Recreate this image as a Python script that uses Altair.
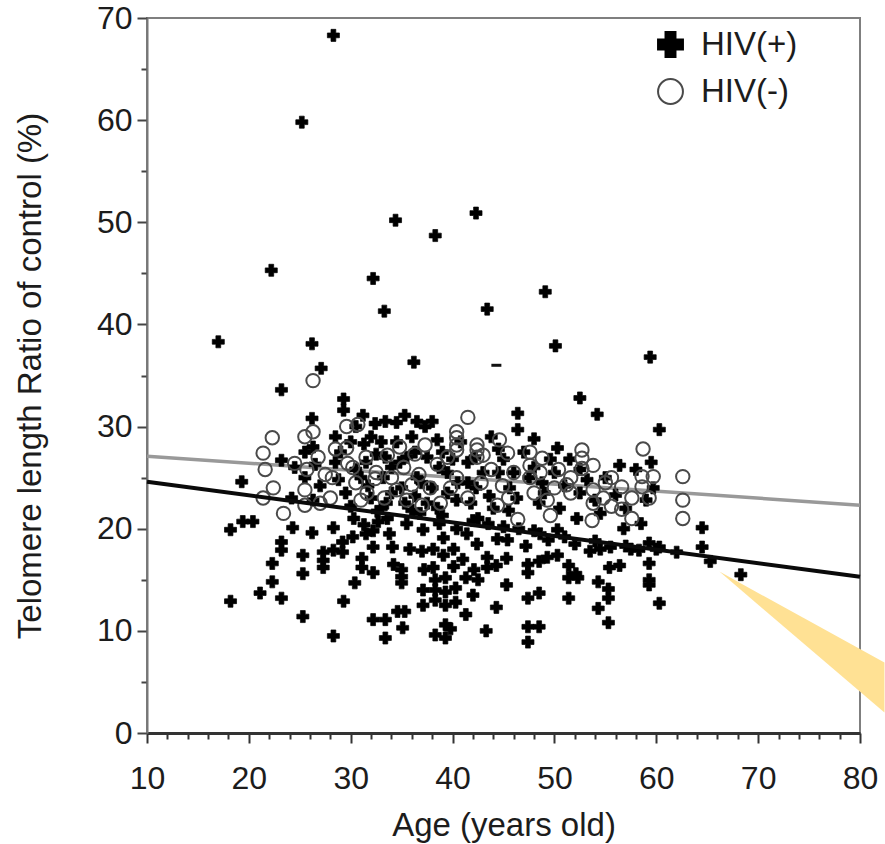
import altair as alt
import pandas as pd

# ---------------- data ----------------
# HIV(+) : age (years), telomere length ratio of control (%)
pos_age = [
    28.3, 25.2, 22.2, 17.0, 32.2, 34.4, 38.3, 42.3, 33.3, 43.4, 49.1, 50.1, 36.2, 26.2, 27.1, 59.4, 52.5, 54.2, 60.3, 23.2,
    29.3, 29.3, 31.2, 32.4, 33.4, 34.5, 26.2, 35.3, 37.3, 38.5, 46.4, 46.4, 50.3, 56.4,
    18.2, 19.4, 20.4, 19.3, 22.3, 21.1, 18.2, 22.3, 23.2, 23.2, 23.2, 24.3, 26.2, 25.3, 25.3, 25.3, 23.2, 24.5, 25.5, 25.5,
    26.3, 26.5, 27.0, 27.3, 27.3, 27.3, 26.3, 24.2, 28.3, 28.3, 28.3, 29.2, 29.2, 29.3, 30.2, 30.4, 28.5, 28.5, 28.8, 29.5,
    30.0, 30.3, 30.5, 31.1, 31.1, 31.3, 31.5, 31.7, 31.3, 31.5, 32.2, 32.2, 32.2, 32.2, 32.5, 32.0, 32.6, 32.7, 33.4, 33.4,
    33.4, 33.2, 33.5, 33.6, 33.8, 34.1, 34.2, 34.6, 35.3, 35.1, 35.0, 35.0, 35.0, 34.5, 34.8, 35.0, 35.3, 35.5, 35.8, 36.0,
    36.3, 36.5, 36.3, 36.8, 37.1, 37.5, 37.0, 37.0, 37.2, 38.1, 38.1, 38.3, 38.3, 38.3, 38.3, 38.5, 38.7, 38.7, 39.1, 39.1,
    39.3, 39.3, 39.3, 39.3, 39.3, 39.5, 39.5, 39.8, 40.1, 40.1, 40.3, 40.3, 40.4, 40.4, 40.5, 41.0, 41.3, 41.3, 41.4, 41.5,
    41.8, 42.0, 42.1, 42.3, 42.5, 42.4, 42.5, 43.3, 43.4, 43.4, 43.6, 43.5, 44.3, 44.3, 44.4, 44.5, 44.5, 45.3, 45.3, 45.4,
    45.5, 45.6, 46.3, 46.5, 47.4, 47.4, 47.4, 47.4, 47.4, 47.2, 47.5, 48.5, 48.5, 48.5, 48.6, 48.5, 48.8, 49.4, 49.6, 50.3,
    50.3, 50.5, 51.0, 51.4, 51.4, 51.4, 52.1, 52.0, 52.2, 52.5, 53.5, 54.3, 54.3, 54.5, 54.5, 55.3, 55.3, 55.3, 55.4, 56.4,
    55.5, 56.0, 56.8, 57.5, 58.3, 58.5, 59.3, 59.3, 59.3, 59.3, 59.0, 60.3, 60.3, 59.7, 64.5, 64.5, 65.3, 68.3,
    29.0, 30.0, 30.5, 31.0, 32.0, 33.0, 34.0, 34.0, 35.5, 36.5, 37.5, 38.0, 38.0, 39.0, 40.0, 40.8, 41.5, 42.2, 43.0, 43.8,
    44.0, 45.0, 46.0, 47.0, 48.0, 48.0, 49.0, 50.0, 51.5, 52.5, 53.2, 54.0, 55.0, 57.0, 58.0, 59.5,
    33.0, 36.0, 39.0, 42.0, 45.0, 48.0, 51.0, 54.0, 57.0, 60.0, 62.0,
    52.3, 49.3, 37.1, 37.1,
]
pos_val = [
    68.3, 59.8, 45.3, 38.3, 44.5, 50.2, 48.7, 50.9, 41.3, 41.5, 43.2, 37.9, 36.3, 38.1, 35.7, 36.8, 32.8, 31.2, 29.7, 33.6,
    32.7, 31.6, 31.1, 30.3, 30.5, 30.4, 30.8, 31.1, 30.0, 28.7, 31.3, 29.7, 27.9, 26.2,
    19.9, 20.7, 20.7, 24.6, 16.6, 13.7, 12.9, 14.8, 13.2, 18.7, 17.9, 20.1, 19.6, 17.4, 15.6, 11.4, 26.7, 26.0, 25.0, 27.5,
    28.0, 26.3, 24.2, 17.7, 16.9, 16.2, 22.8, 23.0, 20.1, 17.9, 9.5, 18.7, 17.7, 12.9, 19.2, 14.7, 29.0, 26.5, 24.8, 23.5,
    22.2, 21.0, 25.8, 17.1, 16.2, 28.3, 26.5, 24.2, 20.4, 19.5, 15.7, 11.1, 18.2, 19.8, 27.3, 23.0, 21.7, 20.7, 11.1, 9.3,
    27.0, 25.0, 22.5, 21.0, 19.5, 18.2, 16.5, 11.9, 11.9, 10.3, 16.0, 15.3, 14.7, 28.5, 26.5, 24.0, 22.5, 20.5, 18.0, 29.0,
    27.5, 25.0, 23.2, 21.5, 19.9, 27.0, 24.5, 17.8, 16.0, 18.0, 16.2, 9.6, 13.0, 14.0, 15.0, 22.0, 20.5, 26.0, 19.1, 17.4,
    9.3, 10.6, 12.5, 13.8, 15.2, 23.5, 25.5, 10.2, 18.0, 16.3, 12.8, 14.2, 20.0, 22.8, 24.5, 17.0, 11.6, 15.2, 19.5, 26.5,
    22.5, 13.5, 16.0, 24.0, 21.0, 18.5, 15.0, 10.0, 16.2, 17.2, 23.2, 20.5, 12.3, 16.4, 19.0, 25.5, 27.8, 14.5, 17.1, 18.9,
    21.8, 24.0, 23.0, 20.0, 8.9, 10.4, 13.2, 15.7, 16.5, 18.3, 25.0, 10.4, 13.7, 16.8, 19.5, 22.5, 24.5, 18.9, 26.8, 17.4,
    19.9, 22.0, 24.2, 13.2, 15.2, 16.4, 15.6, 18.5, 21.0, 25.8, 17.8, 12.2, 14.8, 18.0, 21.5, 10.8, 13.2, 14.1, 16.2, 16.4,
    18.2, 23.3, 20.0, 18.0, 17.9, 20.5, 15.0, 14.5, 16.6, 18.6, 22.8, 12.7, 18.2, 24.0, 20.1, 18.2, 16.8, 15.5,
    27.5, 28.5, 30.0, 25.0, 29.0, 28.5, 26.0, 23.5, 27.0, 30.5, 22.5, 30.5, 24.0, 27.5, 26.8, 28.5, 24.5, 27.0, 25.5, 29.0,
    22.0, 26.8, 25.5, 27.5, 26.0, 28.8, 23.5, 25.5, 26.8, 23.5, 24.8, 22.8, 25.0, 22.0, 25.8, 26.5,
    22.0, 21.8, 21.3, 20.8, 20.2, 19.8, 19.2, 18.8, 18.3, 18.0, 17.7,
    15.2, 17.2, 14.0, 12.5,
]

# HIV(-)
neg_age = [
    21.4, 22.3, 21.6, 22.4, 21.4, 23.4, 24.5, 25.5, 26.3, 25.5, 25.5, 25.7, 26.3, 26.8, 27.5, 28.0, 28.5, 29.6, 30.7, 29.6,
    29.7, 30.5, 31.0, 31.5, 32.5, 33.6, 32.4, 31.6, 33.3, 34.0, 34.8, 35.2, 35.5, 36.3, 36.7, 37.3, 37.8, 38.5, 38.8, 39.5,
    40.4, 40.4, 40.4, 40.4, 41.5, 40.4, 42.4, 42.4, 42.4, 41.5, 42.8, 44.6, 45.4, 44.4, 43.8, 44.9, 46.4, 46.0, 47.6, 48.8,
    47.6, 48.6, 47.6, 49.3, 49.6, 48.0, 50.4, 51.2, 52.7, 52.7, 52.7, 53.8, 51.6, 51.6, 53.8, 53.8, 54.8, 55.6, 55.6, 56.6,
    56.6, 57.6, 57.6, 58.7, 58.6, 59.7, 58.6, 59.3, 53.7, 62.6, 62.6, 62.6, 43.0, 39.8, 36.0, 34.5, 30.2, 28.2, 27.0, 37.0,
    45.5, 50.0, 55.0,
]
neg_val = [
    27.4, 28.9, 25.8, 24.0, 23.0, 21.5, 26.4, 29.0, 29.5, 23.8, 22.3, 25.8, 34.5, 27.0, 25.3, 23.0, 27.8, 30.0, 30.2, 27.9,
    26.4, 24.5, 22.8, 27.0, 25.5, 27.2, 24.9, 23.5, 23.0, 25.0, 28.0, 26.0, 22.8, 27.3, 25.3, 28.2, 24.0, 26.3, 22.5, 27.0,
    29.5, 28.9, 28.2, 27.7, 30.9, 25.0, 28.2, 27.7, 27.0, 23.0, 24.5, 28.7, 27.4, 22.3, 25.8, 24.2, 20.9, 25.5, 27.5, 26.9,
    26.2, 25.5, 25.0, 22.8, 21.3, 23.5, 25.8, 24.3, 27.7, 26.9, 25.9, 26.2, 25.0, 23.5, 23.8, 22.5, 23.0, 25.0, 22.2, 24.1,
    21.9, 23.0, 21.0, 27.8, 25.1, 25.1, 24.1, 23.0, 20.8, 25.1, 22.8, 21.0, 27.2, 24.0, 24.3, 23.8, 26.0, 25.0, 22.5, 22.3,
    23.0, 24.0, 24.5,
]

# the lone dash-shaped mark
dash_age = [44.3]
dash_val = [36.0]

# regression lines (end points)
fit_age = [10, 80]
fit_pos = [24.6, 15.3]
fit_neg = [27.1, 22.3]

# yellow pointer wedge (annotation)
wedge_age = [66.2, 82.4]
wedge_top = [15.8, 6.9]
wedge_bottom = [15.8, 2.0]

x_ticks = list(range(10, 81, 2))
y_ticks = list(range(0, 71, 5))
groups = ["HIV(+)", "HIV(-)"]

# ---------------- tables ----------------
pos_df = pd.DataFrame({"age": pos_age, "val": pos_val, "group": groups[0]})
neg_df = pd.DataFrame({"age": neg_age, "val": neg_val, "group": groups[1]})
dash_df = pd.DataFrame({"age": dash_age, "val": dash_val})
pos_fit_df = pd.DataFrame({"age": fit_age, "val": fit_pos})
neg_fit_df = pd.DataFrame({"age": fit_age, "val": fit_neg})
wedge_df = pd.DataFrame({"age": wedge_age, "val": wedge_top, "val2": wedge_bottom})

FONT = "Liberation Sans"
TXT = "#1c1c1c"

x_major = "datum.value % 10 === 0"
y_major = "datum.value % 10 === 0"

xaxis = alt.Axis(
    values=x_ticks,
    labelExpr=f"{x_major} ? datum.label : ''",
    tickSize={"condition": {"test": x_major, "value": 10}, "value": 6},
    tickWidth=2, tickColor="#333333",
    domainColor="#333333", domainWidth=3,
    labelPadding=20, labelFlush=False, labelOverlap=False,
    grid=False,
    titleX=356.5, titleY=102, titleAlign="center", titleBaseline="alphabetic",
)
yaxis = alt.Axis(
    values=y_ticks,
    labelExpr=f"{y_major} ? datum.label : ''",
    tickSize={"condition": {"test": y_major, "value": 10}, "value": 6},
    tickWidth=2, tickColor="#444444",
    domainColor="#777777", domainWidth=2,
    labelPadding=5, labelFlush=False, labelOverlap=False,
    grid=False,
    titleX=-117, titleY=357.5, titleAlign="center", titleBaseline="middle", titleAngle=270,
)

xscale = alt.Scale(domain=[10, 80], nice=False, zero=False)
yscale = alt.Scale(domain=[0, 70], nice=False, zero=False)

x_enc = alt.X("age:Q", scale=xscale, axis=xaxis, title="Age (years old)")
y_enc = alt.Y("val:Q", scale=yscale, axis=yaxis, title="Telomere length Ratio of control (%)")

leg = alt.Legend(
    title=None, orient="none", legendX=507, legendY=10,
    symbolSize=620, symbolStrokeWidth=2,
    labelFont=FONT, labelFontSize=33, labelColor=TXT,
    labelOffset=14, rowPadding=13, padding=0,
)
shape_enc = alt.Shape("group:N", scale=alt.Scale(domain=groups, range=["cross", "circle"]), legend=leg)
fill_enc = alt.Fill("group:N", scale=alt.Scale(domain=groups, range=["#000000", "transparent"]), legend=leg)
stroke_enc = alt.Stroke("group:N", scale=alt.Scale(domain=groups, range=["#000000", "#4a4a4a"]), legend=leg)

neg_line = alt.Chart(neg_fit_df).mark_line(color="#999999", strokeWidth=3.5).encode(x=x_enc, y=y_enc)
pos_line = alt.Chart(pos_fit_df).mark_line(color="#0a0a0a", strokeWidth=4).encode(x=x_enc, y=y_enc)

pos_pts = alt.Chart(pos_df).mark_point(opacity=1, size=145, strokeWidth=0.7).encode(
    x=x_enc, y=y_enc, shape=shape_enc, fill=fill_enc, stroke=stroke_enc,
)
neg_pts = alt.Chart(neg_df).mark_point(opacity=1, size=180, strokeWidth=2).encode(
    x=x_enc, y=y_enc, shape=shape_enc, fill=fill_enc, stroke=stroke_enc,
)

dash = alt.Chart(dash_df).mark_point(
    shape="M-1,-0.3H1V0.3H-1Z", filled=True, color="#111111", size=100, opacity=1
).encode(x=x_enc, y=y_enc)

wedge = alt.Chart(wedge_df).mark_area(color="#FFE194", opacity=1, clip=False).encode(
    x=x_enc, y=y_enc, y2=alt.Y2("val2:Q")
)

chart = alt.layer(neg_line, pos_pts, neg_pts, dash, pos_line, wedge).properties(
    width=713,
    height=715,
    autosize=alt.AutoSizeParams(type="none"),
    padding={"left": 147, "top": 18, "right": 25, "bottom": 111},
    background="white",
).configure_view(
    stroke="#7f7f7f", strokeWidth=2
).configure_axis(
    labelFont=FONT, titleFont=FONT, labelFontSize=32, titleFontSize=33,
    labelColor=TXT, titleColor=TXT, titleFontWeight="normal",
)

chart.save("out.html", embed_options={"renderer": "svg", "actions": False})
